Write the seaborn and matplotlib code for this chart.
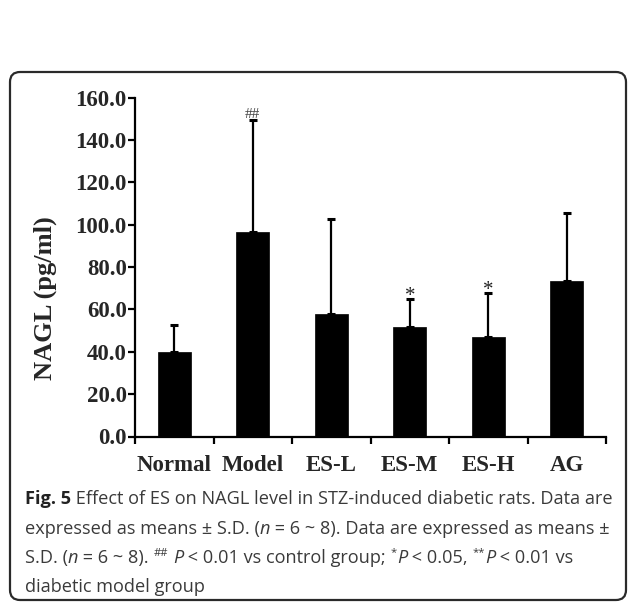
import matplotlib
matplotlib.use("Agg")
import matplotlib.pyplot as plt
from matplotlib.patches import FancyBboxPatch
from matplotlib.font_manager import FontProperties
import numpy as np
import pandas as pd
import seaborn as sns

groups = ["Normal", "Model", "ES-L", "ES-M", "ES-H", "AG"]
means = [39.8, 96.7, 57.7, 51.6, 46.8, 73.4]
sds = [12.9, 52.8, 45.2, 13.3, 20.8, 32.0]
marks = ["", "##", "", "*", "*", ""]
yticks = [0, 20, 40, 60, 80, 100, 120, 140, 160]
ylabel = "NAGL (pg/ml)"
# caption: (text, style) segments; style r=regular, b=bold, i=italic, s=superscript
caption_lines = [
    [("Fig. 5", "b"), (" Effect of ES on NAGL level in STZ-induced diabetic rats. Data are", "r")],
    [("expressed as means ± S.D. (", "r"), ("n", "i"), (" = 6 ~ 8). Data are expressed as means ±", "r")],
    [("S.D. (", "r"), ("n", "i"), (" = 6 ~ 8). ", "r"), ("##", "s"), (" ", "r"), ("P", "i"),
     (" < 0.01 vs control group; ", "r"), ("*", "s"), ("P", "i"), (" < 0.05, ", "r"),
     ("**", "s"), ("P", "i"), (" < 0.01 vs", "r")],
    [("diabetic model group", "r")],
]

sns.set_theme(style="white")

W, H = 629, 605
fig = plt.figure(figsize=(W / 100, H / 100), dpi=100)
fig.patch.set_facecolor("white")

ax_left, ax_right, ax_top, ax_bottom = 135, 606, 97.7, 436.5
ax = fig.add_axes([ax_left / W, 1 - ax_bottom / H, (ax_right - ax_left) / W, (ax_bottom - ax_top) / H])

df = pd.DataFrame({"group": groups, "mean": means, "sd": sds})
sns.barplot(data=df, x="group", y="mean", color="black", width=0.42,
            saturation=1, ax=ax, errorbar=None, edgecolor="black", linewidth=0.5)

x = np.arange(len(groups))
ax.errorbar(x, df["mean"], yerr=[np.zeros(len(groups)), df["sd"]], fmt="none",
            ecolor="black", elinewidth=1.6, capsize=3.2, capthick=2.2, zorder=5)

for xi, m, s, mk in zip(x, means, sds, marks):
    if not mk:
        continue
    if mk.startswith("#"):
        ax.annotate(mk, xy=(xi, m + s), xytext=(0, -1), textcoords="offset points",
                    ha="center", va="bottom", fontsize=11, color="#444444",
                    family="Liberation Serif")
    else:
        ax.annotate(mk, xy=(xi, m + s), xytext=(0, -5), textcoords="offset points",
                    ha="center", va="bottom", fontsize=15, color="#222222",
                    family="Liberation Serif")

ax.set_xlim(-0.5, len(groups) - 0.5)
ax.set_ylim(0, 160)
ax.set_yticks(yticks)
ax.set_yticklabels([f"{v:.1f}" for v in yticks], family="Liberation Serif",
                   fontweight="bold", fontsize=16.5)

ax.set_xticks(np.arange(-0.5, len(groups), 1.0))
ax.set_xticklabels([])
ax.set_xticks(x, minor=True)
ax.set_xticklabels(groups, minor=True, family="Liberation Serif",
                   fontweight="bold", fontsize=16.5)
ax.tick_params(axis="x", which="major", direction="out", length=5, width=1.6,
               color="black", bottom=True)
ax.tick_params(axis="x", which="minor", length=0, pad=13, bottom=True)
ax.tick_params(axis="y", which="major", direction="out", length=5, width=1.6,
               color="black", pad=1, left=True)

ax.set_xlabel("")
ax.set_ylabel(ylabel, family="Liberation Serif", fontweight="bold", fontsize=19)
ax.yaxis.set_label_coords((45 - ax_left) / (ax_right - ax_left),
                          (ax_bottom - 298) / (ax_bottom - ax_top))
ax.yaxis.label.set_va("center")

for side in ["top", "right"]:
    ax.spines[side].set_visible(False)
for side in ["left", "bottom"]:
    ax.spines[side].set_color("black")
    ax.spines[side].set_linewidth(1.6)

# rounded frame
bx0, bx1, by0, by1 = 10, 626, 72, 600
frame = FancyBboxPatch((bx0 / W, 1 - by1 / H), (bx1 - bx0) / W, (by1 - by0) / H,
                       boxstyle="round,pad=0,rounding_size=0.016",
                       transform=fig.transFigure, facecolor="none",
                       edgecolor="#2a2a2a", linewidth=1.6, mutation_aspect=W / H)
fig.patches.append(frame)

# caption, laid out segment by segment
renderer = fig.canvas.get_renderer()
cap_size = 13.05
styles = {
    "r": dict(family="Open Sans", size=cap_size),
    "b": dict(family="Open Sans", size=cap_size, weight="bold"),
    "i": dict(family="Open Sans", size=cap_size, style="italic"),
    "s": dict(family="Open Sans", size=cap_size * 0.62),
}


def text_width(s, st):
    fp = FontProperties(**styles[st])
    w_full, _, _ = renderer.get_text_width_height_descent("|" + s + "|", fp, ismath=False)
    w_bars, _, _ = renderer.get_text_width_height_descent("||", fp, ismath=False)
    return w_full - w_bars


baselines = [504, 533.5, 563, 592]
for segs, yb in zip(caption_lines, baselines):
    xp = 25.0
    for s, st in segs:
        raise_px = 7.5 if st == "s" else 0
        color = "#222222" if st == "b" else "#3a3a3a"
        fig.text(xp / W, 1 - (yb - raise_px) / H, s, fontproperties=FontProperties(**styles[st]),
                 color=color, ha="left", va="baseline")
        xp += text_width(s, st)

fig.savefig("out.png", dpi=100)
